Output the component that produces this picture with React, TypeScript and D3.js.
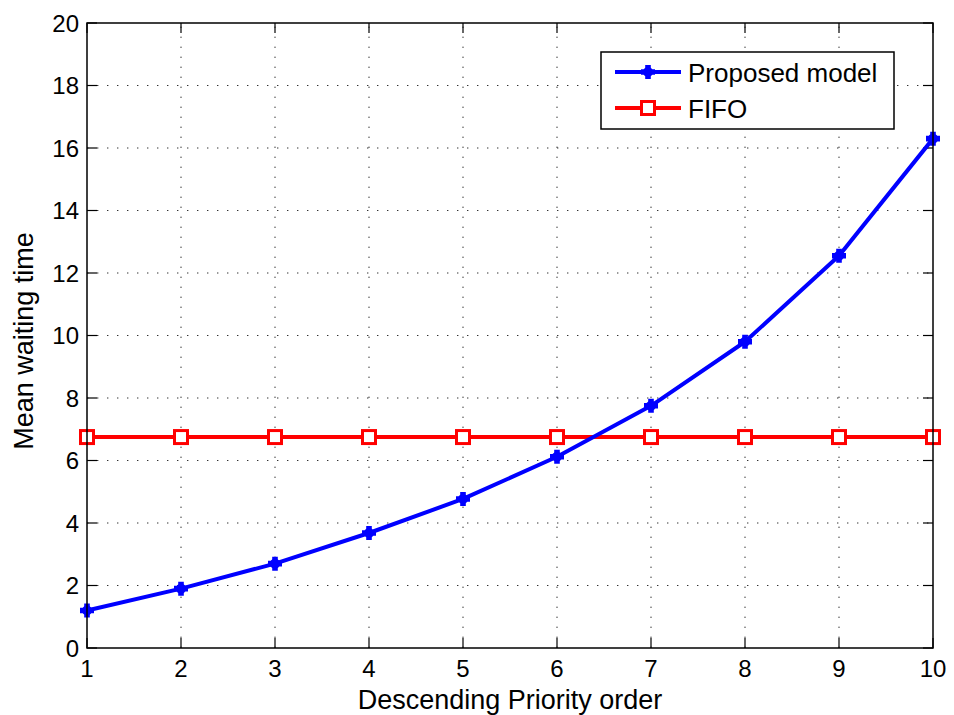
import React from "react";
import * as d3 from "d3";

// Priority positions on the x axis
const priorities = [1, 2, 3, 4, 5, 6, 7, 8, 9, 10];
// Mean waiting time under the proposed priority model
const proposedValues = [1.2, 1.9, 2.7, 3.68, 4.77, 6.12, 7.75, 9.8, 12.55, 16.3];
// Mean waiting time under FIFO scheduling
const fifoValues = [6.75, 6.75, 6.75, 6.75, 6.75, 6.75, 6.75, 6.75, 6.75, 6.75];
const xTicks = [1, 2, 3, 4, 5, 6, 7, 8, 9, 10];
const yTicks = [0, 2, 4, 6, 8, 10, 12, 14, 16, 18, 20];
const seriesNames = ["Proposed model", "FIFO"];

const W = 954;
const H = 715;
const M = { left: 87, right: 21, top: 23, bottom: 67 };
const FONT = "'Liberation Sans', Arial, Helvetica, sans-serif";

function Star({ x, y, color }: { x: number; y: number; color: string }) {
  // filled plus/asterisk-like marker
  const r = 7;
  const w = 2.8;
  const d = `M${x - w},${y - r}L${x + w},${y - r}L${x + w},${y - w}L${x + r},${y - w}L${x + r},${y + w}L${x + w},${y + w}L${x + w},${y + r}L${x - w},${y + r}L${x - w},${y + w}L${x - r},${y + w}L${x - r},${y - w}L${x - w},${y - w}Z`;
  return (
    <g>
      <path d={d} fill={color} />
      <circle cx={x} cy={y} r={5} fill={color} />
    </g>
  );
}

function Square({ x, y, color }: { x: number; y: number; color: string }) {
  const s = 6.5;
  return (
    <rect x={x - s} y={y - s} width={2 * s} height={2 * s} fill="white" stroke={color} strokeWidth={3} />
  );
}

export default function App() {
  const x = d3.scaleLinear().domain([1, 10]).range([M.left, W - M.right]);
  const y = d3.scaleLinear().domain([0, 20]).range([H - M.bottom, M.top]);
  const x0 = x(1), x1 = x(10), y0 = y(0), y1 = y(20);

  const line = d3
    .line<number>()
    .x((_, i) => x(priorities[i]))
    .y((d) => y(d));

  const gridColor = "#333";
  const dash = "1.4 8.6";

  return (
    <svg width={W} height={H} style={{ position: "absolute", left: 0, top: 0, background: "white" }}>
      <rect x={0} y={0} width={W} height={H} fill="white" />
      {/* grid */}
      {xTicks.slice(1, -1).map((t) => (
        <line key={"gx" + t} x1={x(t)} x2={x(t)} y1={y0} y2={y1} stroke={gridColor} strokeWidth={1} strokeDasharray={dash} />
      ))}
      {yTicks.slice(1, -1).map((t) => (
        <line key={"gy" + t} x1={x0} x2={x1} y1={y(t)} y2={y(t)} stroke={gridColor} strokeWidth={1} strokeDasharray={dash} />
      ))}
      {/* ticks on all four sides, pointing inward */}
      {xTicks.map((t) => (
        <g key={"tx" + t}>
          <line x1={x(t)} x2={x(t)} y1={y0} y2={y0 - 10} stroke="#000" strokeWidth={1.2} />
          <line x1={x(t)} x2={x(t)} y1={y1} y2={y1 + 10} stroke="#000" strokeWidth={1.2} />
          <text x={x(t)} y={y0 + 29} textAnchor="middle" fontFamily={FONT} fontSize={24} fill="#000">
            {t}
          </text>
        </g>
      ))}
      {yTicks.map((t) => (
        <g key={"ty" + t}>
          <line x1={x0} x2={x0 + 10} y1={y(t)} y2={y(t)} stroke="#000" strokeWidth={1.2} />
          <line x1={x1} x2={x1 - 10} y1={y(t)} y2={y(t)} stroke="#000" strokeWidth={1.2} />
          <text x={x0 - 8} y={y(t) + 8.5} textAnchor="end" fontFamily={FONT} fontSize={24} fill="#000">
            {t}
          </text>
        </g>
      ))}
      {/* FIFO series */}
      <path d={line(fifoValues) || ""} fill="none" stroke="#ff0000" strokeWidth={4} />
      {fifoValues.map((v, i) => (
        <Square key={"f" + i} x={x(priorities[i])} y={y(v)} color="#ff0000" />
      ))}
      {/* Proposed model series */}
      <path d={line(proposedValues) || ""} fill="none" stroke="#0000ff" strokeWidth={4} strokeLinejoin="round" />
      {proposedValues.map((v, i) => (
        <Star key={"p" + i} x={x(priorities[i])} y={y(v)} color="#0000ff" />
      ))}
      {/* axes box */}
      <rect x={x0} y={y1} width={x1 - x0} height={y0 - y1} fill="none" stroke="#000" strokeWidth={1.5} />
      {/* axis labels */}
      <text x={(x0 + x1) / 2} y={709} textAnchor="middle" fontFamily={FONT} fontSize={27} fill="#000">
        Descending Priority order
      </text>
      <text
        transform={`translate(33,341) rotate(-90)`}
        textAnchor="middle"
        fontFamily={FONT}
        fontSize={27}
        fill="#000"
      >
        Mean waiting time
      </text>
      {/* legend */}
      <g>
        <rect x={601} y={52} width={293} height={77} fill="white" stroke="#000" strokeWidth={1.5} />
        <line x1={615} x2={681} y1={72} y2={72} stroke="#0000ff" strokeWidth={4} />
        <Star x={648} y={72} color="#0000ff" />
        <text x={688} y={82} fontFamily={FONT} fontSize={26} fill="#000">
          {seriesNames[0]}
        </text>
        <line x1={615} x2={681} y1={108} y2={108} stroke="#ff0000" strokeWidth={4} />
        <Square x={648} y={108} color="#ff0000" />
        <text x={688} y={118} fontFamily={FONT} fontSize={26} fill="#000">
          {seriesNames[1]}
        </text>
      </g>
    </svg>
  );
}
